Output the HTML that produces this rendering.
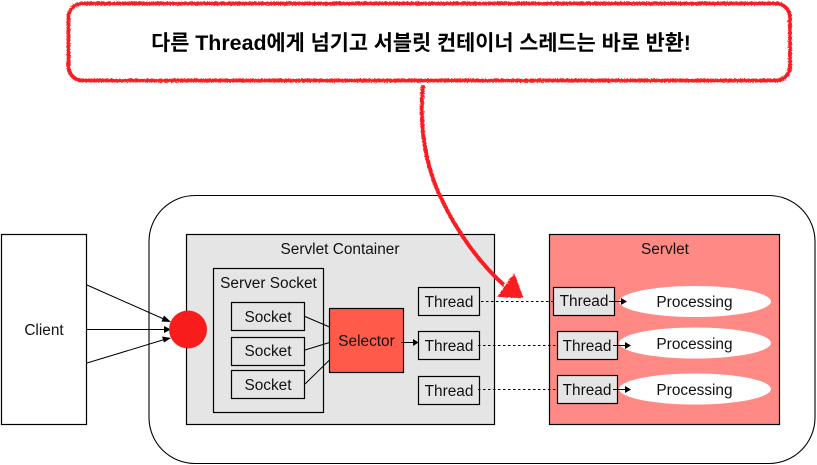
<!DOCTYPE html>
<html><head><meta charset="utf-8"><style>
html,body{margin:0;padding:0;background:#fff;width:817px;height:465px;overflow:hidden}
svg{display:block}
text{font-family:"Liberation Sans","Noto Sans CJK KR",sans-serif;font-size:15.4px;fill:#111;text-anchor:middle}
.b{stroke:#000;stroke-width:1.2}
.l{stroke:#000;stroke-width:1;fill:none}
.d{stroke:#000;stroke-width:1.1;fill:none;stroke-dasharray:2.5 2.5}
</style></head><body>
<svg width="817" height="465" viewBox="0 0 817 465" xmlns="http://www.w3.org/2000/svg">
<defs>
<filter id="r" x="-5%" y="-5%" width="110%" height="110%"><feTurbulence type="fractalNoise" baseFrequency="0.7" numOctaves="3" seed="3"/><feDisplacementMap in="SourceGraphic" scale="3"/></filter>
</defs>
<rect x="149" y="195.500" width="666" height="268" rx="46" fill="#fff" stroke="#000" stroke-width="1.1"/>
<rect x="1.500" y="234.500" width="85" height="190" fill="#fff" class="b"/>
<text x="44" y="335">Client</text>
<rect x="186.500" y="234.500" width="308" height="190" fill="#e5e5e5" class="b"/>
<text x="340" y="254">Servlet Container</text>
<rect x="213.500" y="268.500" width="110" height="144" fill="#e5e5e5" class="b"/>
<text x="268.500" y="288">Server Socket</text>
<rect x="231.500" y="302.500" width="73" height="28" fill="#e5e5e5" class="b"/>
<text x="268" y="322">Socket</text>
<rect x="231.500" y="337.500" width="73" height="28" fill="#e5e5e5" class="b"/>
<text x="268" y="356">Socket</text>
<rect x="231.500" y="370.500" width="73" height="28" fill="#e5e5e5" class="b"/>
<text x="268" y="390">Socket</text>
<path class="l" d="M305 316.500L329.500 327M305 350L329.500 342.500M305 384L329.500 360"/>
<rect x="329.500" y="308.500" width="74" height="64" fill="#ff5a4a" class="b"/>
<text x="366.500" y="346">Selector</text>
<path class="l" d="M401 342.500H414"/><path d="M418.500 342.500L413 339V346Z"/>
<rect x="418.500" y="287.500" width="61" height="28" fill="#e5e5e5" class="b"/>
<text x="449" y="307">Thread</text>
<rect x="418.500" y="331.500" width="61" height="28" fill="#e5e5e5" class="b"/>
<text x="449" y="351">Thread</text>
<rect x="418.500" y="376.500" width="61" height="28" fill="#e5e5e5" class="b"/>
<text x="449" y="396">Thread</text>
<rect x="549.500" y="234.500" width="230" height="190" fill="#ff8a85" class="b"/>
<text x="665" y="254">Servlet</text>
<path class="d" d="M481 301.500H553M478 345.500H557M478 389.500H557"/>
<rect x="553.500" y="287.500" width="61" height="28" fill="#e5e5e5" class="b"/>
<text x="584" y="306">Thread</text>
<rect x="557.500" y="331.500" width="60" height="28" fill="#e5e5e5" class="b"/>
<text x="587" y="351">Thread</text>
<rect x="557.500" y="375.500" width="60" height="28" fill="#e5e5e5" class="b"/>
<text x="587" y="395">Thread</text>
<ellipse cx="695" cy="301.500" rx="76" ry="15.500" fill="#fff"/>
<ellipse cx="695" cy="343" rx="76" ry="15.500" fill="#fff"/>
<ellipse cx="695" cy="389" rx="76" ry="15.500" fill="#fff"/>
<text x="694.500" y="307">Processing</text>
<text x="694.500" y="349">Processing</text>
<text x="694.500" y="395">Processing</text>
<path class="l" d="M609 301.500H622M613 345.500H626M613 389.500H626"/>
<path d="M627 301.500L621 298V305ZM631 345.500L625 342V349ZM631 389.500L625 386V393Z"/>
<path class="l" d="M87 285L166 320M87 329.500H166M87 363L166 339"/>
<path d="M171 322L164 315.500L161.500 321.500ZM171 329.500L164 326V333ZM171 338L162 336.500L164 342.500Z"/>
<circle cx="188" cy="329.500" r="19" fill="#f91c1c"/>
<text x="421" y="50" style="font-size:20.8px;font-weight:700;fill:#000">다른 <tspan style="font-size:21.4px">Thread</tspan>에게 넘기고 서블릿 컨테이너 스레드는 바로 반환!</text>
<g filter="url(#r)" fill="none" stroke="#fb1c24" stroke-width="3.800">
<rect x="68.500" y="3.500" width="721.500" height="77" rx="14"/>
<path d="M423 85C419 125 425 165 441 198C455 228 478 262 504 285" stroke-width="4"/>
<path d="M514 275L499 296L522 297Z" fill="#fb1c24" stroke-width="2"/>
</g>
</svg>
</body></html>
